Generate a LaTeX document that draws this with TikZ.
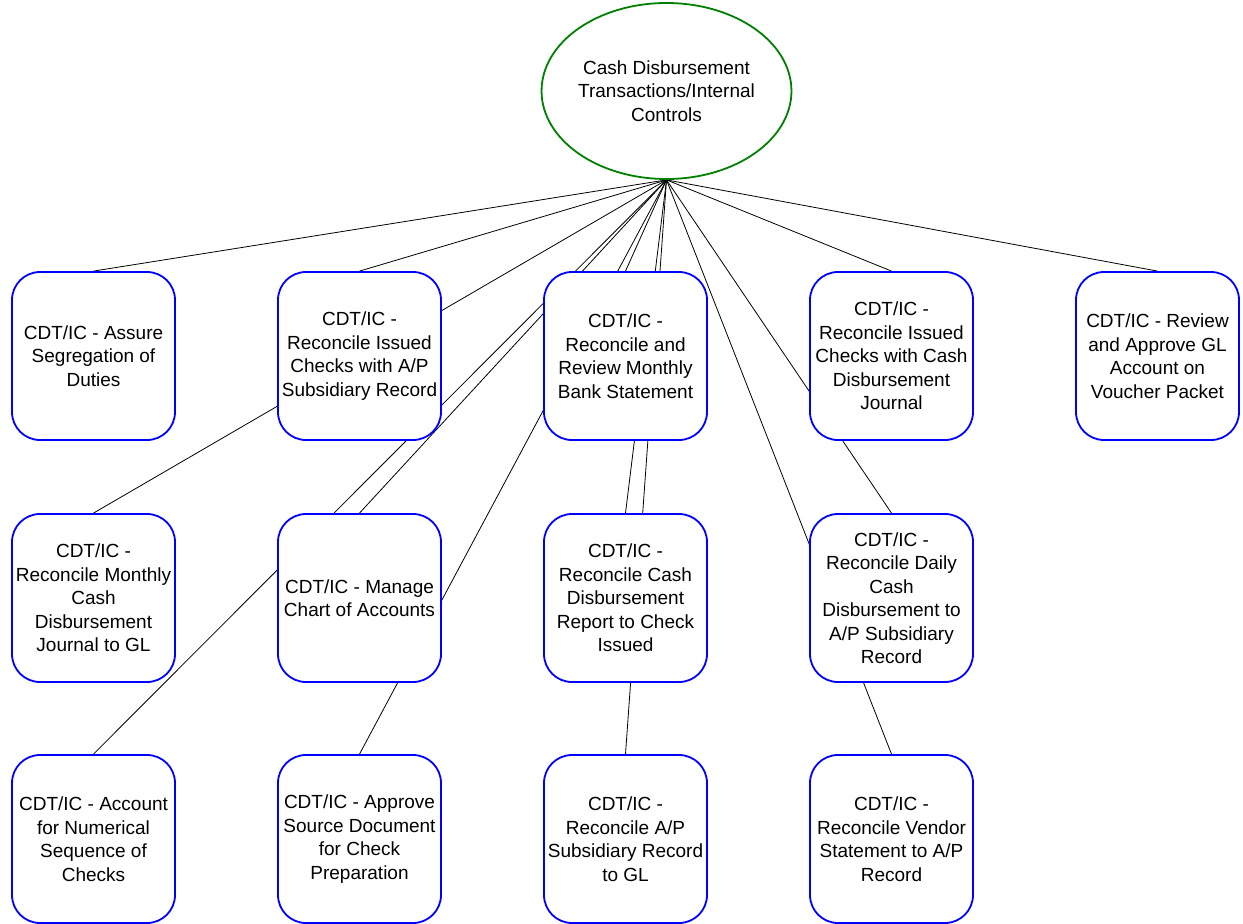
\documentclass[tikz,border=0pt]{standalone}
\usepackage{fontspec}
\setmainfont{Liberation Sans}
\usetikzlibrary{shapes.geometric}
\definecolor{ringgreen}{RGB}{0,128,0}
\definecolor{boxblue}{RGB}{0,0,255}
\pgfdeclarelayer{background}
\pgfsetlayers{background,main}

\begin{document}
\begin{tikzpicture}[x=1pt,y=-1pt,
    font=\fontsize{19}{23.5}\selectfont,
    ctrl/.style={draw=boxblue,line width=1.8pt,fill=white,rounded corners=28pt,
      minimum width=163pt,minimum height=168pt,inner sep=2pt,align=center},
    goal/.style={ellipse,draw=ringgreen,line width=1.8pt,fill=white,
      minimum width=246pt,minimum height=176pt,inner sep=0pt,align=center},
    link/.style={black,line width=0.8pt}]
    \useasboundingbox (0,0) rectangle (1243,924);
    % top
    \node[goal] (top) at (666.5,91) {Cash Disbursement\\Transactions/Internal\\Controls};
    % row 1
    \node[ctrl] (seg)    at (93.5,356)   {CDT/IC - Assure\\Segregation of\\Duties};
    \node[ctrl] (apchk)  at (359.5,356)  {CDT/IC -\\Reconcile Issued\\Checks with A/P\\Subsidiary Record};
    \node[ctrl] (bank)   at (625.5,356)  {CDT/IC -\\Reconcile and\\Review Monthly\\Bank Statement};
    \node[ctrl] (cdjchk) at (891.5,356)  {CDT/IC -\\Reconcile Issued\\Checks with Cash\\Disbursement\\Journal};
    \node[ctrl] (glrev)  at (1157.5,356) {CDT/IC - Review\\and Approve GL\\Account on\\Voucher Packet};
    % row 2
    \node[ctrl] (mcdj)   at (93.5,598)  {CDT/IC -\\Reconcile Monthly\\Cash\\Disbursement\\Journal to GL};
    \node[ctrl] (chart)  at (359.5,598) {CDT/IC - Manage\\Chart of Accounts};
    \node[ctrl] (cdrpt)  at (625.5,598) {CDT/IC -\\Reconcile Cash\\Disbursement\\Report to Check\\Issued};
    \node[ctrl] (daily)  at (891.5,598) {CDT/IC -\\Reconcile Daily\\Cash\\Disbursement to\\A/P Subsidiary\\Record};
    % row 3
    \node[ctrl] (numseq) at (93.5,839)  {CDT/IC - Account\\for Numerical\\Sequence of\\Checks};
    \node[ctrl] (srcdoc) at (359.5,839) {CDT/IC - Approve\\Source Document\\for Check\\Preparation};
    \node[ctrl] (apgl)   at (625.5,839) {CDT/IC -\\Reconcile A/P\\Subsidiary Record\\to GL};
    \node[ctrl] (vendor) at (891.5,839) {CDT/IC -\\Reconcile Vendor\\Statement to A/P\\Record};
    % links, behind the boxes
    \begin{pgfonlayer}{background}
      \foreach \n in {seg,apchk,bank,cdjchk,glrev,mcdj,chart,cdrpt,daily,numseq,srcdoc,apgl,vendor}
        \draw[link] (top.south) -- (\n.north);
    \end{pgfonlayer}
\end{tikzpicture}
\end{document}
